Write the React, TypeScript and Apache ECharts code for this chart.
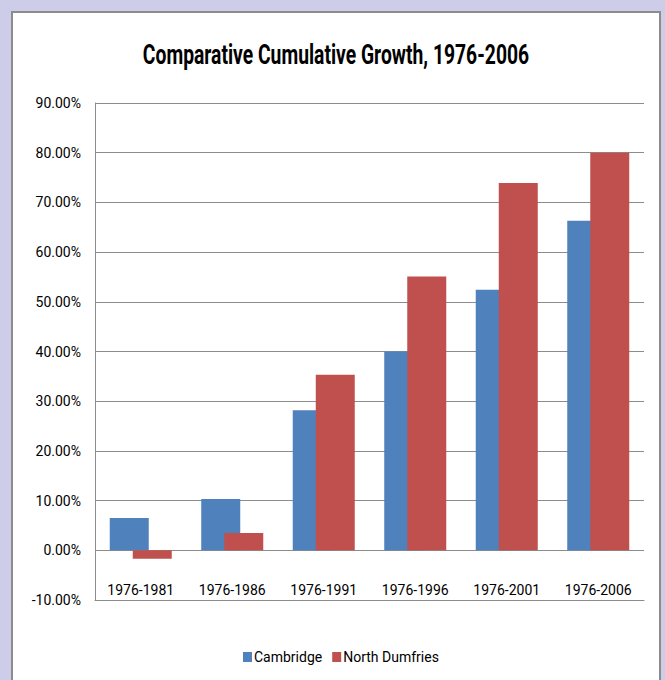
import React, { useEffect, useRef } from "react";
import * as echarts from "echarts";

const categories = ["1976-1981", "1976-1986", "1976-1991", "1976-1996", "1976-2001", "1976-2006"];
const cambridge = [6.5, 10.3, 28.2, 40.0, 52.4, 66.3];
const northDumfries = [-1.7, 3.5, 35.3, 55.1, 73.9, 80.0];
const seriesNames = ["Cambridge", "North Dumfries"];
const titleText = "Comparative Cumulative Growth, 1976-2006";

const FONT = "Roboto, 'Liberation Sans', sans-serif";

export default function App() {
  const ref = useRef<HTMLDivElement>(null);
  useEffect(() => {
    if (!ref.current) return;
    const chart = echarts.init(ref.current, undefined, { renderer: "svg" });
    chart.setOption({
      animation: false,
      backgroundColor: "#CDCDE9",
      graphic: [
        {
          type: "rect",
          z: -10,
          silent: true,
          shape: { x: 12, y: 12, width: 648, height: 700 },
          style: { fill: "#ffffff", stroke: "#8c8c8c", lineWidth: 2 },
        },
        {
          type: "text",
          silent: true,
          x: 336,
          y: 55,
          scaleX: 0.69,
          style: {
            text: titleText,
            fontFamily: FONT,
            fontSize: 28,
            fontWeight: "bold",
            fill: "#000",
            align: "center",
            verticalAlign: "middle",
          },
        },
      ],
      legend: {
        bottom: 11,
        left: 238,
        itemWidth: 9,
        itemHeight: 10,
        itemGap: 10,
        icon: "rect",
        textStyle: { fontFamily: FONT, fontSize: 14, color: "#000", padding: [0, 0, 0, -3] },
        data: seriesNames,
      },
      grid: { left: 95, right: 21, top: 103, bottom: 80, containLabel: false },
      xAxis: {
        type: "category",
        data: categories,
        position: "bottom",
        axisLine: { onZero: false, lineStyle: { color: "#8c8c8c", width: 1 } },
        axisTick: { show: false },
        axisLabel: { inside: true, interval: 0, margin: 3, fontFamily: FONT, fontSize: 14, color: "#000" },
      },
      yAxis: {
        type: "value",
        min: -10,
        max: 90,
        interval: 10,
        axisLine: { show: true, lineStyle: { color: "#8c8c8c", width: 1 } },
        axisTick: { show: false },
        splitLine: { show: true, lineStyle: { color: "#8c8c8c", width: 1 } },
        axisLabel: {
          margin: 14,
          fontFamily: FONT,
          fontSize: 14,
          color: "#000",
          formatter: (v: number) => v.toFixed(2) + "%",
        },
      },
      series: [
        {
          name: seriesNames[0],
          type: "bar",
          data: cambridge,
          barWidth: 39,
          barGap: "-41%",
          itemStyle: { color: "#4F81BD" },
        },
        {
          name: seriesNames[1],
          type: "bar",
          data: northDumfries,
          barWidth: 39,
          barGap: "-41%",
          itemStyle: { color: "#C0504D" },
        },
      ],
    });
    return () => chart.dispose();
  }, []);
  return (
    <div
      ref={ref}
      style={{ position: "fixed", left: 0, top: 0, width: 665, height: 680 }}
    />
  );
}
